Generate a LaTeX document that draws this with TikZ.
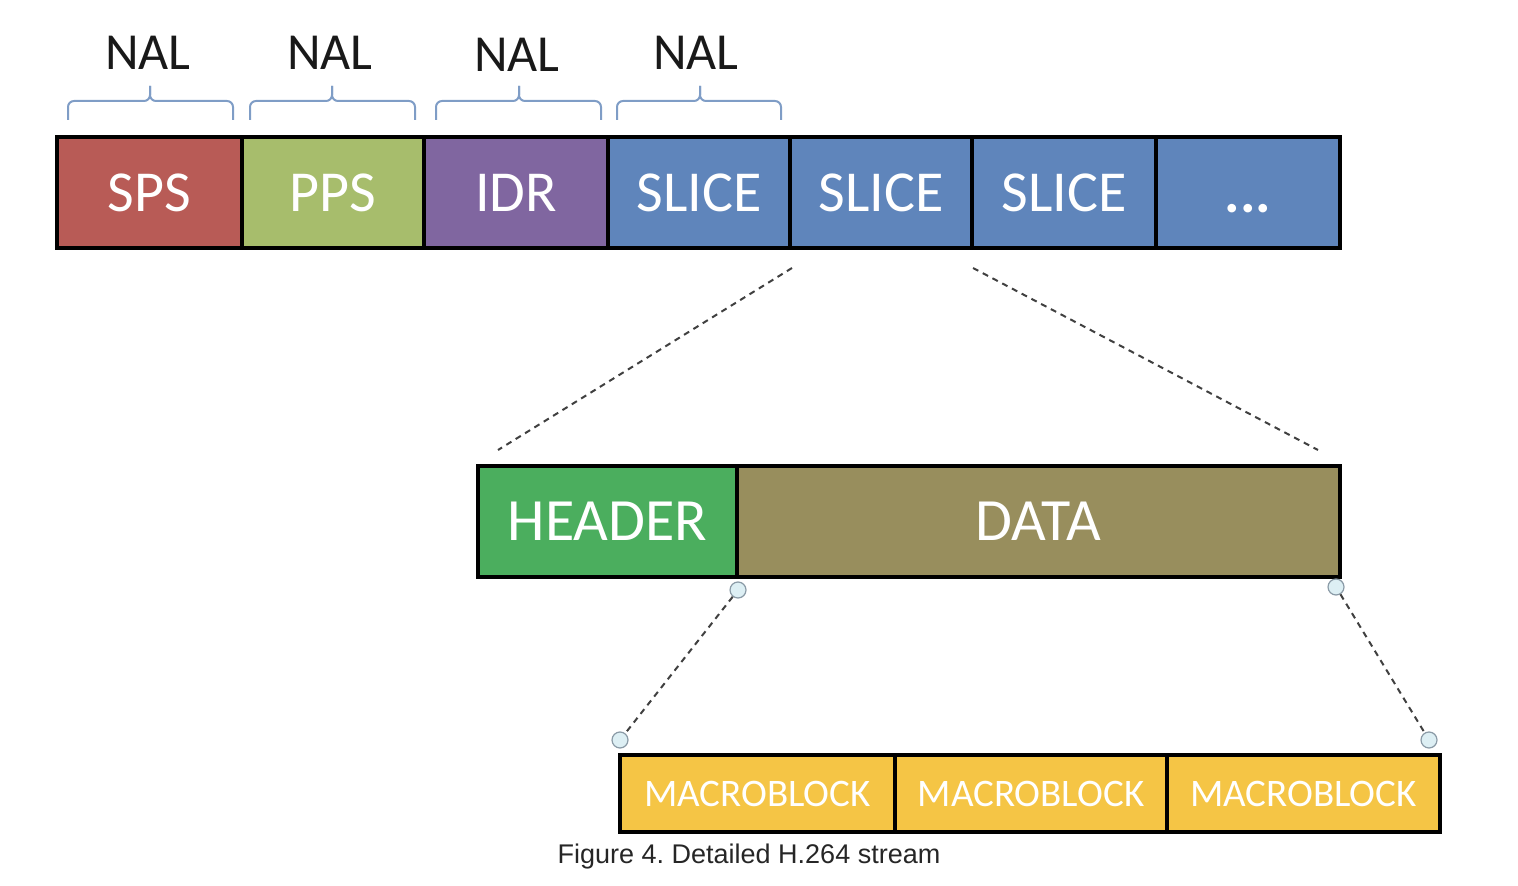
\documentclass[tikz,border=0pt]{standalone}
\usepackage{fontspec}
\setmainfont{Carlito}
\newfontfamily\capfont{Liberation Sans}
\usetikzlibrary{fit}

\definecolor{spsred}{HTML}{B85B56}
\definecolor{ppsgreen}{HTML}{A7BD6C}
\definecolor{idrpurple}{HTML}{8066A0}
\definecolor{sliceblue}{HTML}{5F85BB}
\definecolor{hdrgreen}{HTML}{4BAE5E}
\definecolor{dataolive}{HTML}{988E5D}
\definecolor{mbyellow}{HTML}{F5C545}
\definecolor{bracecol}{HTML}{7F9DC6}
\definecolor{dashgray}{HTML}{404040}
\definecolor{knobfill}{HTML}{DDEFF4}
\definecolor{knobline}{HTML}{8A9AA6}

\tikzset{
  cell/.style={fit={#1}, inner sep=0pt, draw=black, line width=2pt},
  celltext/.style={text=white, inner sep=0pt},
  toptext/.style={celltext, font=\fontsize{29}{29}\selectfont},
  midtext/.style={celltext, font=\fontsize{30}{30}\selectfont},
  mbtext/.style={celltext, font=\fontsize{19.5}{19.5}\selectfont},
  nallabel/.style={font=\fontsize{26}{26}\selectfont, text=black!90},
  nalbrace/.style={draw=bracecol, line width=1pt, rounded corners=3pt},
  zoomline/.style={draw=dashgray, line width=1pt, dash pattern=on 3pt off 2.5pt},
  knob/.style={circle, draw=knobline, fill=knobfill, line width=0.6pt, minimum size=8pt, inner sep=0pt},
}

% box #1 spanning (#2) to (#3), fill #4, label #6 set in style #5
\newcommand{\streamcell}[6]{%
  \node[cell={(#2)(#3)}, fill=#4] (#1) {};
  \node[#5] (#1-text) at (#1.center) {#6};
}

\newcommand{\nalbrace}[3]{%
  \draw[nalbrace] (#1,120) |- (#3,101) -- (#3,86);
  \draw[nalbrace] (#2,120) |- (#3,101) -- (#3,86);
}

\begin{document}
\begin{tikzpicture}[x=0.5pt,y=-0.5pt]
  \useasboundingbox (0,0) rectangle (1518,886);

  % NAL unit row
  \streamcell{sps}{57,137}{242,248}{spsred}{toptext}{SPS}
  \streamcell{pps}{242,137}{424,248}{ppsgreen}{toptext}{PPS}
  \streamcell{idr}{424,137}{608,248}{idrpurple}{toptext}{IDR}
  \streamcell{slicea}{608,137}{790,248}{sliceblue}{toptext}{SLICE}
  \streamcell{sliceb}{790,137}{972,248}{sliceblue}{toptext}{SLICE}
  \streamcell{slicec}{972,137}{1156,248}{sliceblue}{toptext}{SLICE}
  \node[cell={(1156,137)(1340,248)}, fill=sliceblue] (more) {};
  \node[toptext, anchor=base, font=\fontsize{29}{29}\selectfont\bfseries] (more-text) at ([yshift=-10pt]more.center) {...};

  % NAL braces and labels
  \nalbrace{68}{233}{150}
  \nalbrace{250}{415}{332}
  \nalbrace{436}{601}{519}
  \nalbrace{617}{781}{700}
  \node[nallabel] (nal1) at (148,53) {NAL};
  \node[nallabel] (nal2) at (330,53) {NAL};
  \node[nallabel] (nal3) at (517,55) {NAL};
  \node[nallabel] (nal4) at (696,53) {NAL};

  % slice breakdown
  \streamcell{header}{478,466}{737,577}{hdrgreen}{midtext}{HEADER}
  \streamcell{data}{737,466}{1340,577}{dataolive}{midtext}{DATA}

  \coordinate (za) at (792,268);
  \coordinate (zb) at (498,450);
  \coordinate (zc) at (973,268);
  \coordinate (zd) at (1318,450);
  \draw[zoomline] (za) -- (zb);
  \draw[zoomline] (zc) -- (zd);

  % macroblock row
  \streamcell{mba}{620,755}{895,832}{mbyellow}{mbtext}{MACROBLOCK}
  \streamcell{mbb}{895,755}{1167,832}{mbyellow}{mbtext}{MACROBLOCK}
  \streamcell{mbc}{1167,755}{1440,832}{mbyellow}{mbtext}{MACROBLOCK}

  \node[knob] (ka) at (738,590) {};
  \node[knob] (kb) at (620,740) {};
  \node[knob] (kc) at (1336,587) {};
  \node[knob] (kd) at (1429,740) {};
  \draw[zoomline] (ka) -- (kb);
  \draw[zoomline] (kc) -- (kd);

  \node[font=\capfont\fontsize{13.5}{13.5}\selectfont, text=black!85] (caption) at (749,857) {Figure 4.\ Detailed H.264 stream};
\end{tikzpicture}
\end{document}
